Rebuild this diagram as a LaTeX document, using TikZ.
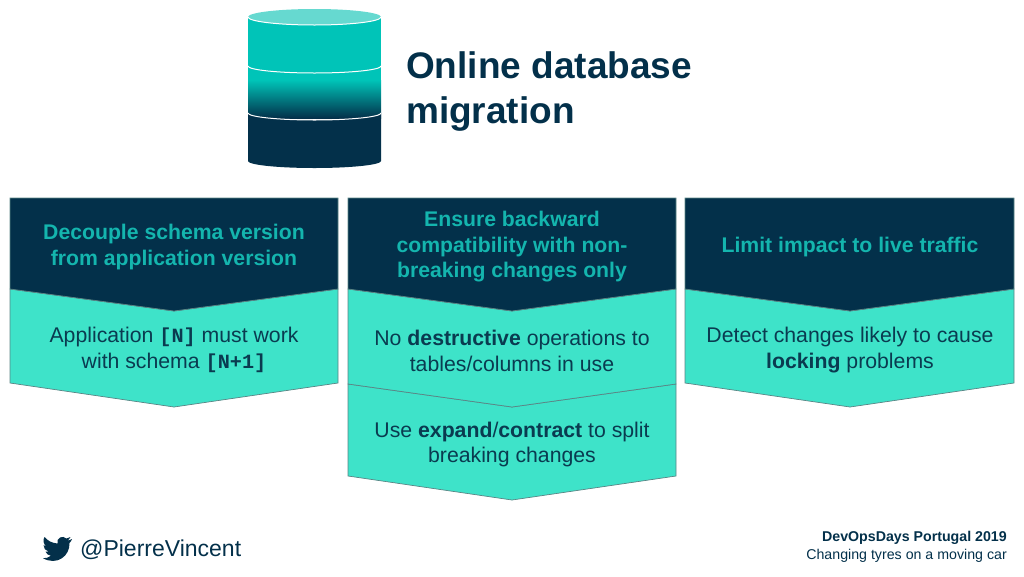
\documentclass[tikz,border=0pt]{standalone}
\usepackage{fontspec}
\setmainfont{Liberation Sans}
\setmonofont{Liberation Mono}
\definecolor{navy}{HTML}{03304A}
\definecolor{mint}{HTML}{3EE3C9}
\definecolor{teal}{HTML}{00C4B8}
\definecolor{palecap}{HTML}{66D9D0}
\definecolor{headtxt}{HTML}{14B5AE}
\definecolor{bodytxt}{HTML}{0A3B50}
\definecolor{edge}{HTML}{5A8585}
\newcommand{\codetxt}[1]{{\fontsize{20.2}{26}\ttfamily\bfseries #1}}
\tikzset{
  headtext/.style={align=center,text=headtxt,font=\fontsize{21.2}{25.5}\selectfont\bfseries},
  bodytext/.style={align=center,text=bodytxt,font=\fontsize{21.25}{25.7}\selectfont},
  darkbox/.style={fill=navy,draw=edge,line width=0.7pt},
  lightbox/.style={fill=mint,draw=edge,line width=0.7pt},
  band/.style={draw=white,line width=1pt},
}
\begin{document}
\begin{tikzpicture}[x=1pt,y=-1pt]
\useasboundingbox (0,0) rectangle (1024,576);
% database
\fill[teal] (248,17) rectangle (381,84);
\fill[top color=teal,bottom color=navy,shading angle=0] (248,80) rectangle (381,118);
\fill[navy] (248,113) -- (248,161) arc[start angle=180,end angle=0,x radius=66.5,y radius=7] -- (381,113) arc[start angle=0,end angle=180,x radius=66.5,y radius=7] -- cycle;
\fill[palecap] (314.5,17) ellipse[x radius=66.5,y radius=8];
\draw[band] (248,17) arc[start angle=180,end angle=0,x radius=66.5,y radius=8];
\draw[band] (248,66) arc[start angle=180,end angle=0,x radius=66.5,y radius=7];
\draw[band] (248,113) arc[start angle=180,end angle=0,x radius=66.5,y radius=7];
\node[anchor=west,align=left,inner sep=0pt,text=navy,font=\fontsize{37}{45}\selectfont\bfseries] (title) at (406,92) {Online database\\migration};
% first column
\draw[lightbox] (10,289) -- (174,311) -- (338,289) -- (338,383) -- (174,407) -- (10,383) -- cycle;
\draw[darkbox] (10,198) -- (338,198) -- (338,289) -- (174,311) -- (10,289) -- cycle;
\node[headtext] (decouple) at (174,247) {Decouple schema version\\from application version};
\node[bodytext] (compat) at (174,350) {Application \codetxt{[N]} must work\\with schema \codetxt{[N+1]}};
% second column
\draw[lightbox] (348,384) -- (512,407) -- (676,384) -- (676,476) -- (512,500) -- (348,476) -- cycle;
\draw[lightbox] (348,289) -- (512,311) -- (676,289) -- (676,384) -- (512,407) -- (348,384) -- cycle;
\draw[darkbox] (348,198) -- (676,198) -- (676,289) -- (512,311) -- (348,289) -- cycle;
\node[headtext] (ensure) at (512,247) {Ensure backward\\compatibility with non-\\breaking changes only};
\node[bodytext] (nodestr) at (512,351) {No \textbf{destructive} operations to\\tables/columns in use};
\node[bodytext] (expand) at (512,444.5) {Use \textbf{expand}/\textbf{contract} to split\\breaking changes};
% third column
\draw[lightbox] (685,289) -- (850,311) -- (1014,289) -- (1014,383) -- (850,407) -- (685,383) -- cycle;
\draw[darkbox] (685,198) -- (1014,198) -- (1014,289) -- (850,311) -- (685,289) -- cycle;
\node[headtext] (limit) at (850,247) {Limit impact to live traffic};
\node[bodytext] (detect) at (850,350) {Detect changes likely to cause\\\textbf{locking} problems};
% footer
\fill[navy] (72,539) .. controls (70,540) and (69,540.5) .. (68,540.5) .. controls (69.5,539.5) and (70,538.5) .. (70.5,537)
  .. controls (69,538) and (68,538.5) .. (66.5,538.5) .. controls (63,535) and (56,537.5) .. (57.5,543.5)
  .. controls (52,543) and (48,541) .. (44.5,537) .. controls (42.5,540) and (43.5,544) .. (46,546)
  .. controls (45,546) and (44,545.5) .. (43.5,545.2) .. controls (43.5,548.5) and (45.5,550.5) .. (48.5,551.5)
  .. controls (47.5,551.8) and (46.5,551.8) .. (45.5,551.6) .. controls (46.5,554) and (48.5,555.5) .. (51,555.7)
  .. controls (48.5,557.7) and (45.5,558.5) .. (43,558.2) .. controls (57,566) and (70,556) .. (69.5,543)
  .. controls (70.5,542) and (71.5,540.5) .. (72,539) -- cycle;
\node[anchor=west,text=navy,font=\fontsize{23}{26}\selectfont,inner sep=0pt] (handle) at (80,549.5) {@PierreVincent};
\node[anchor=east,align=right,text=navy,font=\fontsize{14.2}{18}\selectfont,inner sep=0pt] (event) at (1007,547) {\textbf{DevOpsDays Portugal 2019}\\Changing tyres on a moving car};
\end{tikzpicture}
\end{document}
